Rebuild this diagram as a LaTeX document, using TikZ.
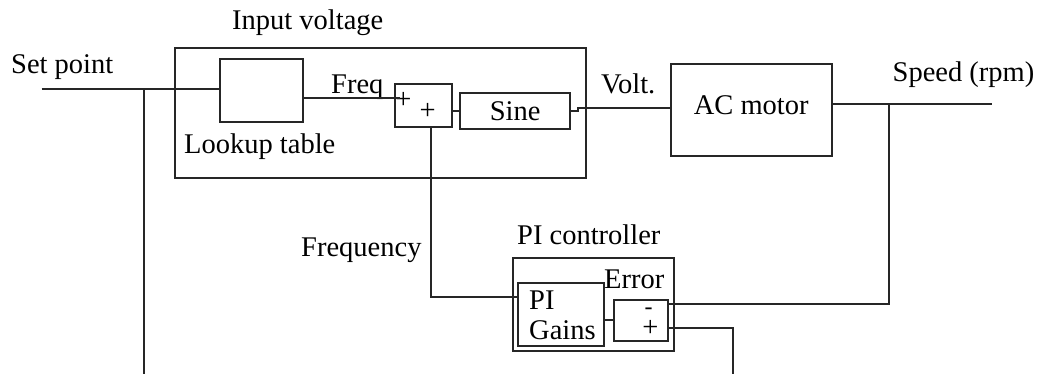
\documentclass[tikz,border=0pt]{standalone}
\usepackage{fontspec}
\setmainfont{Liberation Serif}
\usetikzlibrary{positioning}

\tikzset{
  blk/.style={draw=black!85, line width=1.8pt, inner sep=0pt},
  lbl/.style={anchor=base west, inner sep=0pt},
  sgn/.style={inner sep=0pt},
  wire/.style={draw=black!85, line width=1.8pt},
}

\begin{document}
\begin{tikzpicture}[x=1pt, y=-1pt, font=\fontsize{28.5}{34}\selectfont]
    \useasboundingbox (0,0) rectangle (1045,374);

    % Blocks
    \node[blk, minimum width=410.7pt, minimum height=129.4pt] (inbox) at (380.3,113) {};
    \node[blk, minimum width=83.3pt, minimum height=62.4pt] (lookup) at (261.7,90.5) {};
    \node[blk, minimum width=56.7pt, minimum height=42.7pt] (sum) at (423.3,105.3) {};
    \node[blk, minimum width=109.7pt, minimum height=36pt] (sine) at (515.2,111.3) {Sine};
    \node[blk, minimum width=161pt, minimum height=92pt, text depth=9pt] (motor) at (751.2,110) {AC motor};
    \node[blk, minimum width=161pt, minimum height=92.4pt] (pibox) at (593.8,304.5) {};
    \node[blk, minimum width=86.3pt, minimum height=63pt] (gains) at (560.9,314.2) {};
    \node[blk, minimum width=53.4pt, minimum height=40.7pt] (err) at (641,320.3) {};

    % Labels
    \node[lbl] (setlbl) at (11,74) {Set point};
    \node[lbl] (inlbl) at (232,29.3) {Input voltage};
    \node[lbl] (lklbl) at (184,154) {Lookup table};
    \node[lbl] (freqlbl) at (331,93.3) {Freq};
    \node[lbl] (voltlbl) at (601,93.3) {Volt.};
    \node[lbl] (spdlbl) at (892.5,81.7) {Speed (rpm)};
    \node[lbl] (frqlbl) at (301,256.7) {Frequency};
    \node[lbl] (pilbl) at (517,245) {PI controller};
    \node[lbl] (errlbl) at (604,288.3) {Error};
    \node[lbl] (pitxt) at (529,309.3) {PI};
    \node[lbl] (gtxt) at (529,340) {Gains};

    % Signs
    \node[sgn] (sp1) at (403.3,100) {+};
    \node[sgn] (sp2) at (427.7,111) {+};
    \node[sgn, font=\fontsize{24}{28}\selectfont] (em) at (648.5,311.5) {-};
    \node[sgn] (ep) at (650.5,328) {+};

    % Line ends
    \coordinate (sp) at (41.7,89);
    \coordinate (spdown) at (144,374);
    \coordinate (fin) at (400,98.3);
    \coordinate (spd) at (991.7,104.3);
    \coordinate (fb) at (889.3,104.3);
    \coordinate (fq) at (431,296.7);
    \coordinate (eminus) at (667.7,304.3);
    \coordinate (eplus) at (667.7,327.7);
    \coordinate (refdown) at (733.3,374);

    % Wires
    \draw[wire] (sp) -- (sp -| lookup.west);
    \draw[wire] (spdown |- sp) -- (spdown);
    \draw[wire] (fin -| lookup.east) -- (fin);
    \draw[wire] (sine.west -| sum.east) -- (sine.west);
    \draw[wire] (sine.east) -- ++(7,0) |- ([yshift=2.3pt]motor.west);
    \draw[wire] (spd -| motor.east) -- (spd);
    \draw[wire] (fb) |- (eminus);
    \draw[wire] (fq |- sum.south) -- (fq) -- (fq -| gains.west);
    \draw[wire] (err.west -| gains.east) -- (err.west);
    \draw[wire] (eplus) -| (refdown);
\end{tikzpicture}
\end{document}
